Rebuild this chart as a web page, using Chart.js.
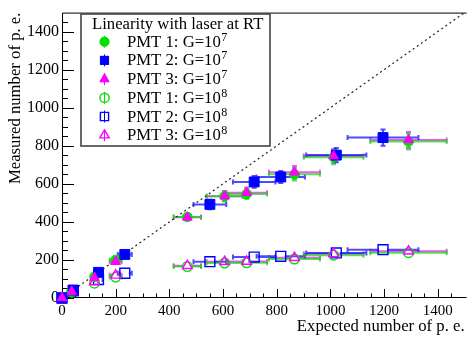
<!DOCTYPE html>
<html>
<head>
<meta charset="utf-8">
<script src="https://cdn.jsdelivr.net/npm/chart.js@4.4.1/dist/chart.umd.min.js"></script>
<style>
  html, body { margin:0; padding:0; background:#fff; }
  #wrap { width:473px; height:343px; }
</style>
</head>
<body>
<div id="wrap"><canvas id="c" width="473" height="343"></canvas></div>
<script>
  // ── DATA ──────────────────────────────────────────────────────────────────
  const xTicks = [0, 200, 400, 600, 800, 1000, 1200, 1400];
  const yTicks = [0, 200, 400, 600, 800, 1000, 1200, 1400];

  // PMT 1 and PMT 3 share the same expected values
  const exp13    = [0, 36, 121, 200, 467, 606, 688, 866, 1012, 1291];
  const exp13Err = [0, 4, 13, 22, 51, 67, 76, 95, 111, 142];
  const exp2     = [0, 42, 136, 234, 551, 716, 815, 1022, 1196];
  const exp2Err  = [0, 5, 15, 26, 61, 79, 90, 112, 132];

  // G = 10^7
  const pmt1G7    = [0, 34, 112, 200, 426, 535, 547, 650, 740, 822];
  const pmt1G7Err = [0, 2, 6, 10, 21, 27, 27, 33, 37, 41];
  const pmt2G7    = [0, 42, 135, 229, 492, 610, 636, 751, 843];
  const pmt2G7Err = [0, 2, 7, 11, 25, 31, 32, 38, 43];
  const pmt3G7    = [0, 34, 107, 191, 424, 535, 553, 661, 746, 831];
  const pmt3G7Err = [0, 2, 5, 10, 21, 27, 28, 33, 37, 42];

  // G = 10^8
  const pmt1G8    = [0, 30, 78, 110, 165, 184, 185, 205, 225, 238];
  const pmt1G8Err = [0, 2, 4, 6, 8, 9, 9, 10, 11, 12];
  const pmt2G8    = [0, 38, 97, 130, 191, 215, 219, 237, 254];
  const pmt2G8Err = [0, 2, 5, 7, 10, 11, 11, 12, 13];
  const pmt3G8    = [0, 32, 84, 119, 170, 191, 192, 212, 232, 246];
  const pmt3G8Err = [0, 2, 4, 6, 8, 9, 9, 10, 11, 12];

  const diagonal = [0, 1500];

  const SERIF = "'Liberation Serif', 'DejaVu Serif', serif";
  const GREEN = '#00e000', BLUE = '#0000ff', MAGENTA = '#ff00ff';

  function pts(xs, ys) { return xs.map((v, i) => ({ x: v, y: ys[i] })); }

  function series(label, xs, ys, xe, ye, color, style, filled, radius) {
    return {
      label, data: pts(xs, ys), errX: xe, errY: ye,
      barColor: color,
      pointStyle: style, pointRadius: radius, pointHoverRadius: radius,
      borderColor: color, backgroundColor: filled ? color : 'rgba(0,0,0,0)',
      pointBorderWidth: filled ? 1 : 1.4,
      showLine: false, clip: false,
    };
  }

  // ── PLUGINS ───────────────────────────────────────────────────────────────
  const frameTicks = {
    id: 'frameTicks',
    beforeDatasetsDraw(chart) {
      const { ctx, chartArea: a, scales: { x, y } } = chart;
      ctx.save();
      ctx.strokeStyle = '#000';
      ctx.lineWidth = 1;
      // frame: right edge falls outside the picture
      ctx.beginPath();
      ctx.moveTo(a.right + 2, a.top + 0.5); ctx.lineTo(a.left + 0.5, a.top + 0.5);
      ctx.lineTo(a.left + 0.5, a.bottom - 0.5); ctx.lineTo(a.right + 2, a.bottom - 0.5);
      for (let v = 0; v <= 1500; v += 50) {
        const major = v % 200 === 0;
        const px = Math.round(x.getPixelForValue(v)) + 0.5;
        if (px < a.right - 1) { ctx.moveTo(px, a.bottom); ctx.lineTo(px, a.bottom - (major ? 9 : 4.5)); }
        const py = Math.round(y.getPixelForValue(v)) + 0.5;
        if (py > a.top + 1) { ctx.moveTo(a.left, py); ctx.lineTo(a.left + (major ? 12 : 6), py); }
      }
      ctx.stroke();
      ctx.restore();
    }
  };

  const errorBars = {
    id: 'errorBars',
    beforeDatasetsDraw(chart) {
      const { ctx, scales: { x, y } } = chart;
      chart.data.datasets.forEach(ds => {
        if (!ds.errX) return;
        ctx.save();
        ctx.strokeStyle = ds.barColor;
        ctx.globalAlpha = 0.7;
        ctx.lineWidth = 2;
        ctx.beginPath();
        ds.data.forEach((p, j) => {
          const px = x.getPixelForValue(p.x), py = y.getPixelForValue(p.y);
          const x0 = x.getPixelForValue(p.x - ds.errX[j]), x1 = x.getPixelForValue(p.x + ds.errX[j]);
          const y0 = y.getPixelForValue(p.y - ds.errY[j]), y1 = y.getPixelForValue(p.y + ds.errY[j]);
          const g = 4;
          if (x1 - px > g) {
            ctx.moveTo(x0, py); ctx.lineTo(px - g, py);
            ctx.moveTo(px + g, py); ctx.lineTo(x1, py);
            ctx.moveTo(x0, py - 2.5); ctx.lineTo(x0, py + 2.5);
            ctx.moveTo(x1, py - 2.5); ctx.lineTo(x1, py + 2.5);
          }
          if (y0 - py > g) {
            ctx.moveTo(px, y0); ctx.lineTo(px, py + g);
            ctx.moveTo(px, py - g); ctx.lineTo(px, y1);
            ctx.moveTo(px - 2.5, y0); ctx.lineTo(px + 2.5, y0);
            ctx.moveTo(px - 2.5, y1); ctx.lineTo(px + 2.5, y1);
          }
        });
        ctx.stroke();
        ctx.restore();
      });
    }
  };

  const legendEntries = [
    { pmt: 'PMT 1: G=10', exp: '7', color: GREEN,   style: 'circle',   filled: true,  r: 4.6 },
    { pmt: 'PMT 2: G=10', exp: '7', color: BLUE,    style: 'rect',     filled: true,  r: 5.8 },
    { pmt: 'PMT 3: G=10', exp: '7', color: MAGENTA, style: 'triangle', filled: true,  r: 5.4 },
    { pmt: 'PMT 1: G=10', exp: '8', color: GREEN,   style: 'circle',   filled: false, r: 4.6 },
    { pmt: 'PMT 2: G=10', exp: '8', color: BLUE,    style: 'rect',     filled: false, r: 5.8 },
    { pmt: 'PMT 3: G=10', exp: '8', color: MAGENTA, style: 'triangle', filled: false, r: 5.4 },
  ];

  const boxLegend = {
    id: 'boxLegend',
    afterDraw(chart) {
      const ctx = chart.ctx;
      ctx.save();
      ctx.fillStyle = '#fff';
      ctx.fillRect(81, 14, 189, 132);
      ctx.strokeStyle = '#444';
      ctx.lineWidth = 1.6;
      ctx.strokeRect(81, 14, 189, 132);
      ctx.fillStyle = '#000';
      ctx.textBaseline = 'alphabetic';
      ctx.textAlign = 'left';
      ctx.font = '16.7px ' + SERIF;
      ctx.fillText('Linearity with laser at RT', 92, 28.5);
      legendEntries.forEach((e, i) => {
        const base = 46.7 + i * 18.7;
        const cy = base - 5;
        ctx.strokeStyle = e.color;
        ctx.lineWidth = 1;
        ctx.beginPath(); ctx.moveTo(104.5, cy - 6); ctx.lineTo(104.5, cy + 6); ctx.stroke();
        ctx.fillStyle = e.filled ? e.color : 'rgba(0,0,0,0)';
        ctx.lineWidth = e.filled ? 1 : 1.4;
        Chart.helpers.drawPoint(ctx, { pointStyle: e.style, radius: e.r, borderWidth: ctx.lineWidth }, 104.5, cy);
        if (e.filled) ctx.fill();
        ctx.fillStyle = '#000';
        ctx.font = '16.7px ' + SERIF;
        ctx.fillText(e.pmt, 127, base);
        const w = ctx.measureText(e.pmt).width;
        ctx.font = '12px ' + SERIF;
        ctx.fillText(e.exp, 127 + w + 0.5, base - 6);
      });
      ctx.restore();
    }
  };

  // ── CHART ─────────────────────────────────────────────────────────────────
  const datasets = [
    series('PMT 3: G=10^7', exp13, pmt3G7, exp13Err, pmt3G7Err, MAGENTA, 'triangle', true, 5.6),
    series('PMT 2: G=10^7', exp2,  pmt2G7, exp2Err,  pmt2G7Err, BLUE,    'rect',     true, 7),
    series('PMT 1: G=10^7', exp13, pmt1G7, exp13Err, pmt1G7Err, GREEN,   'circle',   true, 4.8),
    series('PMT 3: G=10^8', exp13, pmt3G8, exp13Err, pmt3G8Err, MAGENTA, 'triangle', false, 5.6),
    series('PMT 2: G=10^8', exp2,  pmt2G8, exp2Err,  pmt2G8Err, BLUE,    'rect',     false, 7),
    series('PMT 1: G=10^8', exp13, pmt1G8, exp13Err, pmt1G8Err, GREEN,   'circle',   false, 4.8),
    {
      type: 'line', label: 'y = x', data: pts(diagonal, diagonal),
      borderColor: '#222', borderWidth: 1.2, borderDash: [2, 3],
      pointRadius: 0, fill: false, clip: false,
    },
  ];

  new Chart(document.getElementById('c'), {
    type: 'scatter',
    data: { datasets },
    options: {
      responsive: false,
      animation: false,
      devicePixelRatio: 1,
      layout: { padding: { top: 4, right: 0, left: 0, bottom: 0 } },
      plugins: { legend: { display: false }, tooltip: { enabled: false } },
      scales: {
        x: {
          type: 'linear', min: 0, max: 1500,
          grid: { display: false, drawTicks: false },
          border: { display: false },
          afterBuildTicks: s => { s.ticks = xTicks.map(v => ({ value: v })); },
          afterFit: s => { s.height = 45; },
          ticks: { color: '#000', padding: 4, font: { family: SERIF, size: 15 }, callback: v => String(v) },
          title: {
            display: true, text: 'Expected number of p. e.', align: 'end', color: '#000',
            font: { family: SERIF, size: 16.7 }, padding: { top: 0, bottom: 6 },
          },
        },
        y: {
          type: 'linear', min: 0, max: 1500,
          grid: { display: false, drawTicks: false },
          border: { display: false },
          afterBuildTicks: s => { s.ticks = yTicks.map(v => ({ value: v })); },
          afterFit: s => { s.width = 62; },
          ticks: { color: '#000', padding: 3, font: { family: SERIF, size: 16 }, callback: v => String(v) },
          title: {
            display: true, text: 'Measured number of p. e.', align: 'end', color: '#000',
            font: { family: SERIF, size: 16.7 }, padding: { top: 6, bottom: 0 },
          },
        },
      },
    },
    plugins: [frameTicks, errorBars, boxLegend],
  });
</script>
</body>
</html>
